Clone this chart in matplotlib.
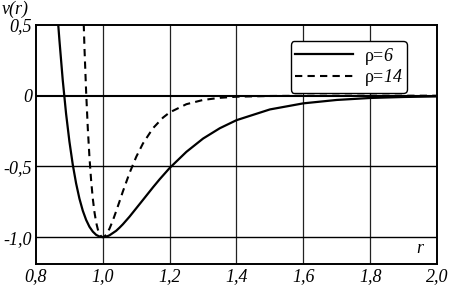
import matplotlib
matplotlib.use("Agg")
import matplotlib.pyplot as plt

# * - - - Values
r_rho6 = [0.86, 0.865, 0.87, 0.88, 0.89, 0.90, 0.91, 0.92, 0.93, 0.94, 0.95, 0.96,
          0.97, 0.98, 0.99, 1.00, 1.01, 1.02, 1.04, 1.05, 1.06, 1.08, 1.10, 1.12,
          1.15, 1.17, 1.20, 1.25, 1.30, 1.35, 1.40, 1.50, 1.60, 1.70, 1.80, 1.90, 2.00]
v_rho6 = [0.733, 0.55, 0.395, 0.111, -0.127, -0.324, -0.487, -0.620, -0.728, -0.813,
          -0.878, -0.927, -0.961, -0.984, -0.996, -1.0, -0.997, -0.987, -0.955, -0.933,
          -0.909, -0.855, -0.796, -0.737, -0.648, -0.591, -0.511, -0.397, -0.303,
          -0.230, -0.173, -0.097, -0.054, -0.030, -0.016, -0.009, -0.005]

r_rho14 = [0.94, 0.945, 0.95, 0.955, 0.96, 0.965, 0.97, 0.975, 0.98, 0.985, 0.99,
           0.995, 1.00, 1.005, 1.01, 1.02, 1.03, 1.04, 1.05, 1.06, 1.08, 1.10, 1.12,
           1.15, 1.18, 1.20, 1.25, 1.30, 1.35, 1.40, 1.50, 1.60, 1.70, 1.80, 1.90, 2.00]
v_rho14 = [0.73, 0.34, 0.028, -0.230, -0.436, -0.600, -0.728, -0.824, -0.896, -0.945,
           -0.978, -0.995, -1.0, -0.995, -0.983, -0.940, -0.882, -0.816, -0.747, -0.677,
           -0.546, -0.432, -0.338, -0.230, -0.155, -0.118, -0.060, -0.030, -0.015,
           -0.007, -0.002, -0.0005, -0.0001, 0.0, 0.0, 0.0]

x_ticks = [0.8, 1.0, 1.2, 1.4, 1.6, 1.8, 2.0]
x_labels = ["0,8", "1,0", "1,2", "1,4", "1,6", "1,8", "2,0"]
y_ticks = [-1.0, -0.5, 0, 0.5]
y_labels = ["-1,0", "-0,5", "0", "0,5"]

plt.rcParams["font.family"] = "Liberation Serif"
plt.rcParams["mathtext.fontset"] = "custom"
plt.rcParams["mathtext.rm"] = "Liberation Serif"
# the 'sf' slot carries the italic face so that digits come out slanted
plt.rcParams["mathtext.sf"] = "Liberation Serif:italic"

fig = plt.figure(figsize=(4.56, 2.85), dpi=100)
ax = fig.add_axes([36 / 456, 21 / 285, 401 / 456, 239 / 285])

# * - - - Grid and frame
for xv in [1.0, 1.2, 1.4, 1.6, 1.8]:
    ax.axvline(xv, color="#222222", lw=0.9, zorder=1)
for yv in [-1.0, -0.5]:
    ax.axhline(yv, color="black", lw=1.0, zorder=1)
ax.axhline(0, color="black", lw=1.5, zorder=1)
for s in ax.spines.values():
    s.set_linewidth(1.4)
    s.set_color("black")

# * - - - Curves
ax.plot(r_rho6, v_rho6, color="black", lw=1.6, label="ρ=$\\mathsf{6}$", zorder=3)
ax.plot(r_rho14, v_rho14, color="black", lw=1.5, linestyle=(0, (3.5, 2.5)),
        label="ρ=$\\mathsf{14}$", zorder=3)

ax.set_xlim(0.8, 2.0)
ax.set_ylim(-1.19, 0.5)
ax.set_xticks(x_ticks)
ax.set_xticklabels(x_labels, fontstyle="italic", fontsize=13)
ax.set_yticks(y_ticks)
ax.set_yticklabels(y_labels, fontstyle="italic", fontsize=13)
ax.tick_params(length=0, pad=3)

leg = ax.legend(loc="upper right", bbox_to_anchor=(0.925, 0.933), borderaxespad=0,
                fontsize=13, handlelength=3.2, frameon=True, fancybox=True,
                edgecolor="black", framealpha=1, labelspacing=0.05, borderpad=0.25,
                handletextpad=0.6)
leg.get_frame().set_linewidth(1.0)

fig.text(2 / 456, 1 - 1 / 285, "v(r)", fontstyle="italic", fontsize=13, va="top")
ax.text(416, 285 - 253, "r", transform=None, fontstyle="italic", fontsize=13)

fig.savefig("out.png", dpi=100)
